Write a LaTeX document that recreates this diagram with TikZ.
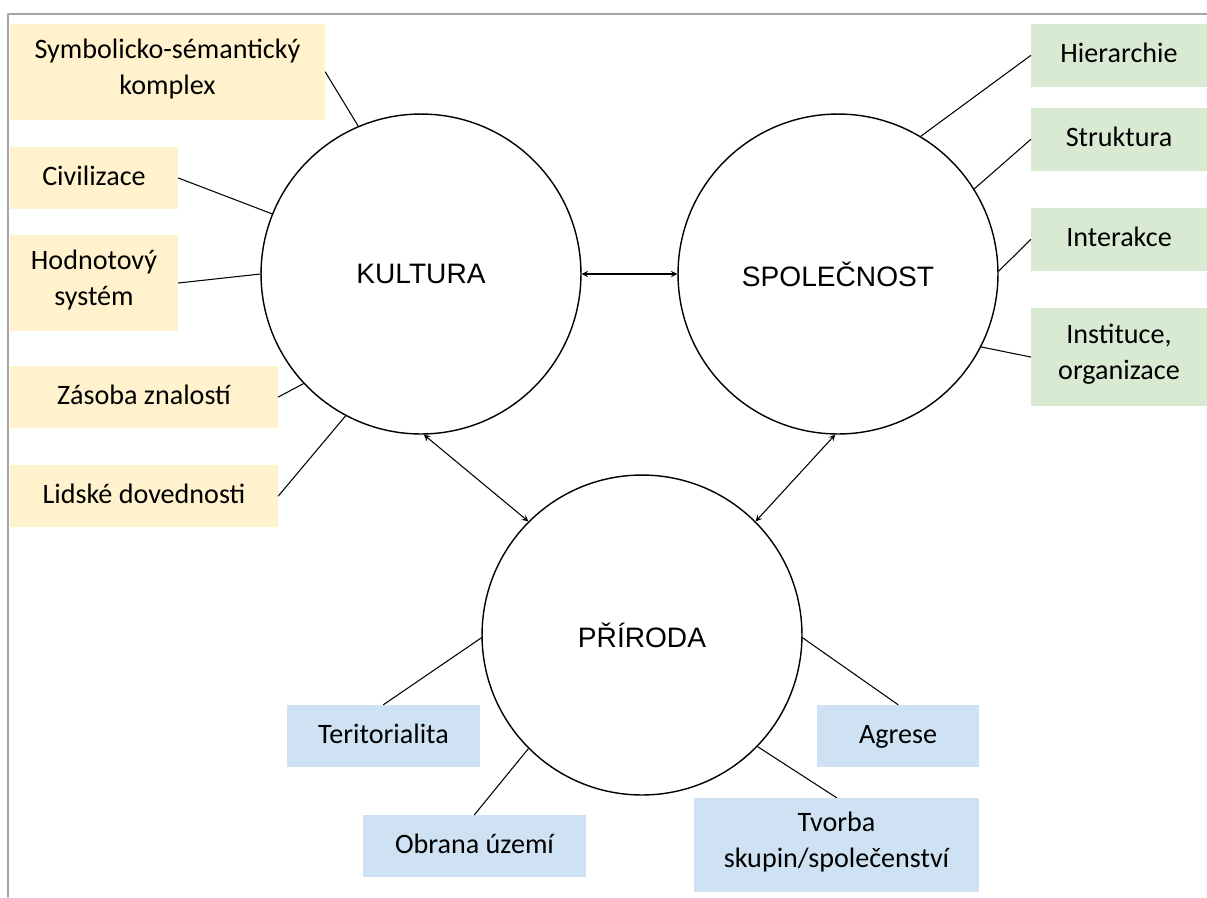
\documentclass[tikz,border=0pt]{standalone}
\usepackage{fontspec}
\setmainfont{Carlito}
\newfontfamily\arialfont{Liberation Sans}
\definecolor{kulturabox}{HTML}{FFF2CC}
\definecolor{spolbox}{HTML}{D9EAD3}
\definecolor{prirodabox}{HTML}{CFE2F3}
\begin{document}
\begin{tikzpicture}[x=0.02cm, y=-0.02cm, font=\fontsize{16}{20}\selectfont, line join=round, line cap=round, >=stealth,
	pojem/.style={circle, draw, line width=0.8pt, minimum size=6.4cm, inner sep=0pt, font=\arialfont\fontsize{16}{20}\selectfont},
	box/.style={rectangle, inner sep=2pt, align=center, minimum height=1.24cm, execute at begin node=\strut},
	kbox/.style={box, fill=kulturabox},
	sbox/.style={box, fill=spolbox, minimum width=3.52cm},
	pbox/.style={box, fill=prirodabox},
	spoj/.style={line width=0.6pt}]
	\useasboundingbox (0,0) rectangle (1207,897);
	\draw[gray!70, line width=0.8pt] (8,897)--(8,14)--(1207,14);
	% kruhy
	\node[pojem] (kultura) at (421,274) {KULTURA};
	\node[pojem] (spolecnost) at (838,274) {SPOLEČNOST};
	\node[pojem] (priroda) at (642,635) {PŘÍRODA};
	% kultura
	\node[kbox, minimum width=6.3cm, minimum height=1.92cm] (symb) at (167.5,72) {Symbolicko-sémantický\\komplex};
	\node[kbox, minimum width=3.36cm] (civ) at (94,178) {Civilizace};
	\node[kbox, minimum width=3.36cm, minimum height=1.92cm] (hodn) at (94,283) {Hodnotový\\systém};
	\node[kbox, minimum width=5.36cm] (zas) at (144,397) {Zásoba znalostí};
	\node[kbox, minimum width=5.36cm] (lids) at (144,496) {Lidské dovednosti};
	% spolecnost
	\node[sbox, minimum height=1.26cm] (hier) at (1119,55.5) {Hierarchie};
	\node[sbox, minimum height=1.26cm] (strukt) at (1119,139.5) {Struktura};
	\node[sbox, minimum height=1.26cm] (inter) at (1119,239.5) {Interakce};
	\node[sbox, minimum height=1.96cm] (inst) at (1119,357) {Instituce,\\organizace};
	% priroda
	\node[pbox, minimum width=3.86cm] (terit) at (383.5,736) {Teritorialita};
	\node[pbox, minimum width=3.24cm] (agrese) at (898,736) {Agrese};
	\node[pbox, minimum width=4.46cm] (obrana) at (474.5,846) {Obrana území};
	\node[pbox, minimum width=5.7cm, minimum height=1.88cm] (tvorba) at (836.5,845) {Tvorba\\skupin/společenství};
	% spojnice
	\draw[spoj] (symb.east)--(kultura.113);
	\draw[spoj] (civ.east)--(kultura.158);
	\draw[spoj] (hodn.east)--(kultura.180);
	\draw[spoj] (zas.east)--(kultura.223);
	\draw[spoj] (lids.east)--(kultura.242);
	\draw[spoj] (hier.west)--(spolecnost.59);
	\draw[spoj] (strukt.west)--(spolecnost.32);
	\draw[spoj] (inter.west)--(spolecnost.1);
	\draw[spoj] (inst.west)--(spolecnost.-27);
	\draw[spoj] (terit.north)--(priroda.181);
	\draw[spoj] (obrana.north)--(priroda.225);
	\draw[spoj] (agrese.north)--(priroda.-1);
	\draw[spoj] (tvorba.north)--(priroda.-44);
	% sipky
	\draw[spoj, <->] (kultura.0)--(spolecnost.180);
	\draw[spoj, <->] (kultura.-89)--(priroda.135);
	\draw[spoj, <->] (spolecnost.-91)--(priroda.45);
\end{tikzpicture}
\end{document}
